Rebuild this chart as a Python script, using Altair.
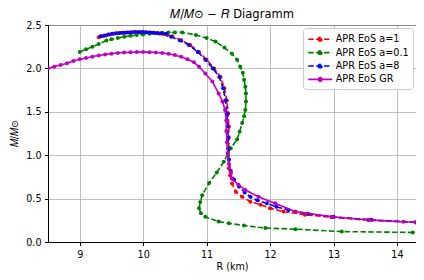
import altair as alt
import pandas as pd

SERIES = ["APR EoS a=1", "APR EoS a=0.1", "APR EoS a=8", "APR EoS GR"]
COLORS = ["#ff0000", "#008000", "#0000ff", "#bf00bf"]
DASHES = [[5.5, 2.4], [5.5, 2.4], [5.5, 2.4], [1, 0]]

# APR EoS a=1 (red)
R_a1 = [9.30, 9.36, 9.42, 9.48, 9.54, 9.60, 9.66, 9.72, 9.78, 9.84, 9.90, 9.96,
        10.02, 10.08, 10.14, 10.20, 10.26, 10.32, 10.38, 10.46, 10.60, 10.74,
        10.88, 11.00, 11.12, 11.22, 11.28, 11.32, 11.34, 11.35, 11.35, 11.35,
        11.35, 11.35, 11.37, 11.40, 11.46, 11.56, 11.69, 11.85, 12.00, 12.21,
        12.55, 12.97, 13.55, 14.30]
M_a1 = [2.360, 2.370, 2.380, 2.390, 2.400, 2.405, 2.410, 2.412, 2.415, 2.416,
        2.417, 2.417, 2.416, 2.414, 2.410, 2.406, 2.400, 2.395, 2.385, 2.370,
        2.325, 2.270, 2.190, 2.100, 2.000, 1.900, 1.770, 1.630, 1.480, 1.330,
        1.200, 1.080, 0.950, 0.850, 0.770, 0.675, 0.580, 0.520, 0.465, 0.430,
        0.390, 0.350, 0.315, 0.285, 0.250, 0.225]

# APR EoS a=0.1 (green)
R_a01 = [9.00, 9.10, 9.20, 9.30, 9.42, 9.50, 9.60, 9.70, 9.80, 9.90, 10.00,
         10.10, 10.20, 10.30, 10.40, 10.50, 10.62, 10.83, 11.00, 11.14, 11.28,
         11.40, 11.48, 11.53, 11.57, 11.59, 11.61, 11.62, 11.62, 11.61, 11.59,
         11.56, 11.52, 11.48, 11.38, 11.27, 11.16, 11.04, 10.93, 10.90, 10.88,
         10.91, 10.98, 11.19, 11.35, 11.59, 11.93, 12.40, 13.13, 14.25]
M_a01 = [2.190, 2.220, 2.250, 2.280, 2.320, 2.335, 2.350, 2.365, 2.375, 2.385,
         2.390, 2.400, 2.405, 2.410, 2.413, 2.415, 2.415, 2.385, 2.350, 2.310,
         2.240, 2.170, 2.100, 2.020, 1.950, 1.870, 1.790, 1.710, 1.620, 1.520,
         1.450, 1.370, 1.270, 1.180, 1.080, 0.925, 0.800, 0.680, 0.540, 0.460,
         0.390, 0.330, 0.290, 0.235, 0.215, 0.190, 0.160, 0.148, 0.120, 0.110]

# APR EoS a=8 (blue)
R_a8 = [9.33, 9.39, 9.45, 9.51, 9.57, 9.63, 9.69, 9.75, 9.81, 9.87, 9.93, 9.99,
        10.05, 10.11, 10.17, 10.23, 10.29, 10.36, 10.44, 10.58, 10.72, 10.86,
        10.98, 11.10, 11.20, 11.26, 11.30, 11.32, 11.33, 11.34, 11.34, 11.35,
        11.38, 11.43, 11.51, 11.60, 11.69, 11.80, 11.95, 12.10, 12.29, 12.60,
        13.00, 13.60, 14.30]
M_a8 = [2.370, 2.380, 2.390, 2.398, 2.404, 2.409, 2.412, 2.415, 2.417, 2.418,
        2.418, 2.418, 2.417, 2.415, 2.412, 2.408, 2.404, 2.400, 2.365, 2.320,
        2.270, 2.190, 2.100, 2.000, 1.900, 1.770, 1.630, 1.480, 1.330, 1.200,
        1.080, 0.950, 0.820, 0.720, 0.640, 0.570, 0.520, 0.480, 0.445, 0.405,
        0.370, 0.325, 0.290, 0.255, 0.228]

# APR EoS GR (magenta)
R_gr = [8.50, 8.60, 8.70, 8.80, 8.90, 9.00, 9.10, 9.20, 9.30, 9.40, 9.50, 9.60,
        9.70, 9.80, 9.90, 10.00, 10.10, 10.20, 10.30, 10.40, 10.50, 10.60,
        10.70, 10.80, 10.88, 10.98, 11.09, 11.19, 11.25, 11.29, 11.31, 11.31,
        11.32, 11.33, 11.35, 11.38, 11.40, 11.50, 11.61, 11.82, 12.08, 12.40,
        12.97, 13.55, 14.10, 14.30]
M_gr = [2.000, 2.020, 2.040, 2.060, 2.085, 2.105, 2.120, 2.135, 2.150, 2.160,
        2.170, 2.178, 2.183, 2.186, 2.188, 2.188, 2.187, 2.184, 2.178, 2.168,
        2.153, 2.133, 2.105, 2.070, 2.020, 1.940, 1.850, 1.710, 1.620, 1.520,
        1.400, 1.280, 1.150, 1.020, 0.900, 0.800, 0.730, 0.660, 0.600, 0.520,
        0.445, 0.350, 0.290, 0.255, 0.232, 0.228]

X_TICKS = [9, 10, 11, 12, 13, 14]
Y_TICKS = [0.0, 0.5, 1.0, 1.5, 2.0, 2.5]

rows = []
for name, rs, ms in zip(SERIES, [R_a1, R_a01, R_a8, R_gr], [M_a1, M_a01, M_a8, M_gr]):
    for i, (r, m) in enumerate(zip(rs, ms)):
        rows.append({"series": name, "R": r, "M": m, "i": i})
df = pd.DataFrame(rows)

LEG_PATH = "M-1,0H3M0.7,0A0.3,0.3 0 1,0 1.3,0A0.3,0.3 0 1,0 0.7,0Z"

LEGEND = dict(
    title=None, orient="top-right", offset=3, symbolType=LEG_PATH,
    symbolSize=144, symbolStrokeWidth=1.6, labelOffset=14.5,
    labelFont="DejaVu Sans", labelFontSize=9.7, labelColor="black",
    rowPadding=1.4, padding=4.2, columnPadding=0, fillColor="white",
    strokeColor="#cccccc", cornerRadius=3, labelLimit=200,
)

color = alt.Color("series:N", scale=alt.Scale(domain=SERIES, range=COLORS),
                  legend=alt.Legend(**LEGEND))
dash = alt.StrokeDash("series:N", scale=alt.Scale(domain=SERIES, range=DASHES),
                      legend=alt.Legend(**LEGEND))

x = alt.X("R:Q", scale=alt.Scale(domain=[8.5, 14.3], nice=False, zero=False),
          axis=alt.Axis(values=X_TICKS, title="R (km)", format="d", titlePadding=3))
y = alt.Y("M:Q", scale=alt.Scale(domain=[0, 2.5], nice=False),
          axis=alt.Axis(values=Y_TICKS, title="𝑀/𝑀⊙", format=".1f",
                        titleX=-29, titleY=108))

layers = []
for name in SERIES:
    layers.append(
        alt.Chart(df).transform_filter(alt.datum.series == name)
        .mark_line(strokeWidth=1.6, clip=True,
                   point=alt.OverlayMarkDef(filled=True, size=16, clip=True))
        .encode(x=x, y=y, color=color, strokeDash=dash, order=alt.Order("i:Q"))
    )

chart = alt.layer(*layers).properties(
    width=368, height=217,
    title=alt.Title("𝑀/𝑀⊙ − 𝑅 Diagramm", font="DejaVu Sans", fontSize=11.5,
                    fontWeight="normal", color="black", offset=0),
    autosize=alt.AutoSizeParams(type="none"),
    padding={"left": 40, "top": 17, "right": 0, "bottom": 30},
).configure_view(stroke="black", strokeWidth=1).configure_axis(
    labelFont="DejaVu Sans", labelFontSize=9.6, labelColor="black",
    titleFont="DejaVu Sans", titleFontSize=9.6, titleColor="black",
    titleFontWeight="normal", tickColor="black", tickSize=3.5,
    gridColor="#b0b0b0", gridWidth=0.8, domainColor="black",
    labelPadding=3.5,
)

chart.save("out.html", embed_options={"renderer": "svg", "actions": False})
